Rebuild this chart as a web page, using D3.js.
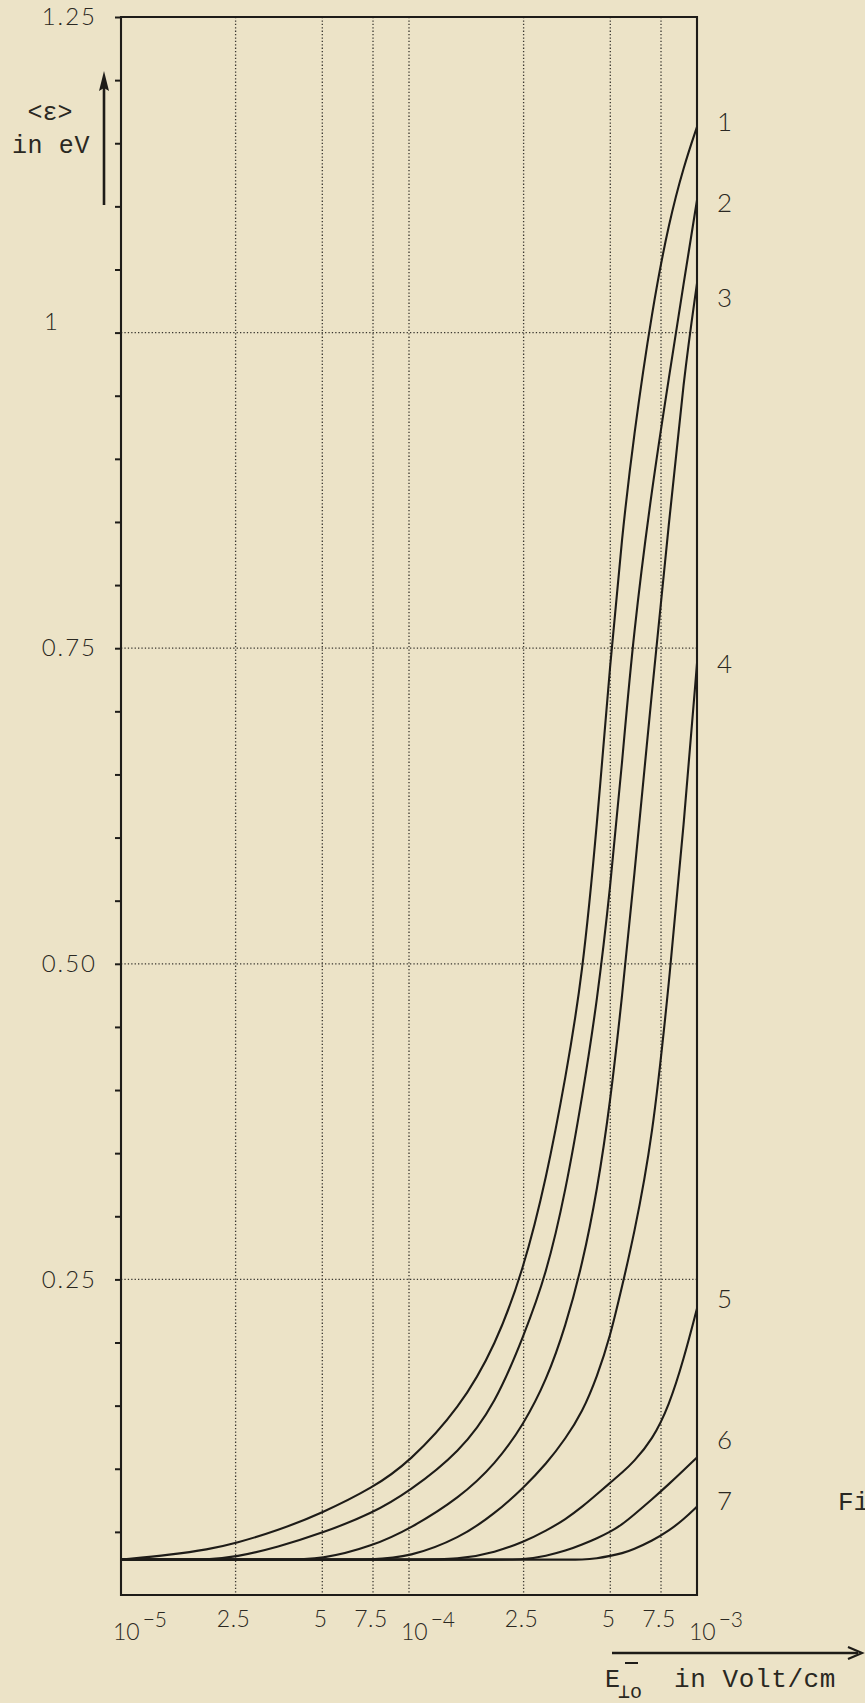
<!DOCTYPE html>
<html><head><meta charset="utf-8">
<script src="https://cdn.jsdelivr.net/npm/d3@7/dist/d3.min.js"></script>
<style>
html,body{margin:0;padding:0;background:#ece3c7;}
svg{display:block;}
</style></head><body>
<svg id="chart" width="865" height="1703"></svg>
<script>
// ---- data ----
const fieldE = [1e-5,1.5e-5,2e-5,2.5e-5,3.5e-5,5e-5,7.5e-5,1e-4,1.5e-4,2e-4,2.5e-4,3e-4,3.5e-4,4e-4,4.5e-4,5e-4,5.5e-4,6e-4,7e-4,8e-4,9e-4,1e-3];
const curveNames = ["1","2","3","4","5","6","7"];
const curve1 = [0.028,0.032,0.036,0.041,0.051,0.065,0.085,0.105,0.148,0.198,0.258,0.330,0.410,0.490,0.610,0.740,0.840,0.915,1.020,1.088,1.132,1.163];
const curve2 = [0.028,0.028,0.028,0.030,0.038,0.049,0.065,0.082,0.113,0.152,0.205,0.254,0.320,0.395,0.470,0.560,0.660,0.760,0.880,0.965,1.040,1.105];
const curve3 = [0.028,0.028,0.028,0.028,0.028,0.028,0.039,0.052,0.077,0.104,0.135,0.170,0.213,0.262,0.320,0.390,0.475,0.560,0.720,0.850,0.965,1.039];
const curve4 = [0.028,0.028,0.028,0.028,0.028,0.028,0.028,0.030,0.045,0.065,0.085,0.104,0.124,0.145,0.173,0.205,0.245,0.282,0.360,0.485,0.610,0.738];
const curve5 = [0.028,0.028,0.028,0.028,0.028,0.028,0.028,0.028,0.028,0.034,0.042,0.051,0.060,0.070,0.080,0.089,0.097,0.105,0.123,0.150,0.187,0.227];
const curve6 = [0.028,0.028,0.028,0.028,0.028,0.028,0.028,0.028,0.028,0.028,0.028,0.031,0.035,0.040,0.045,0.050,0.056,0.063,0.076,0.088,0.099,0.109];
const curve7 = [0.028,0.028,0.028,0.028,0.028,0.028,0.028,0.028,0.028,0.028,0.028,0.028,0.028,0.028,0.029,0.031,0.033,0.036,0.043,0.051,0.060,0.070];

const yTickValues = [0.25,0.5,0.75,1,1.25];
const yTickLabels = ["0.25","0.50","0.75","1","1.25"];
const yMinorStep = 0.05;
const xTickValues = [1e-5,2.5e-5,5e-5,7.5e-5,1e-4,2.5e-4,5e-4,7.5e-4,1e-3];
const xTickLabels = ["10^−5","2.5","5","7.5","10^−4","2.5","5","7.5","10^−3"];
const yTitleLines = ["<ε>","in eV"];
const xTitleMain = "E";
const xTitleSub = "⊥o";
const xTitleUnit = "in Volt/cm";
const figText = "Fig.";

// ---- layout ----
const ink = "#1e1c18";
const numFont = "Lato, 'Open Sans', 'DejaVu Sans', sans-serif";
const typeFont = "'Liberation Mono', 'DejaVu Sans Mono', monospace";
const plotL = 121, plotR = 697, plotT = 17, plotB = 1595;
const labelNudge = [-5, 3, 14, 0, -10, -18, -6];   // label offsets (px) from curve end

const svg = d3.select("#chart");
const x = d3.scaleLog().domain([1e-5, 1e-3]).range([plotL, plotR]);
const y = d3.scaleLinear().domain([0, 1.25]).range([plotB, plotT]);

// gridlines
const grid = svg.append("g").attr("stroke", "#3a3730").attr("stroke-width", 1.3)
  .attr("stroke-dasharray", "1.3,2.1").attr("fill", "none");
grid.selectAll("line.v").data(xTickValues.slice(1, -1)).join("line").attr("class", "v")
  .attr("x1", d => x(d)).attr("x2", d => x(d)).attr("y1", plotT).attr("y2", plotB);
grid.selectAll("line.h").data(yTickValues.slice(0, -1)).join("line").attr("class", "h")
  .attr("x1", plotL).attr("x2", plotR).attr("y1", d => y(d)).attr("y2", d => y(d));

// y axis minor ticks + labels
const minor = d3.range(1, Math.round(1.25 / yMinorStep) + 1).map(i => +(i * yMinorStep).toFixed(2));
const labelFor = v => { const i = yTickValues.findIndex(t => Math.abs(t - v) < 1e-6); return i >= 0 ? yTickLabels[i] : ""; };
const yAxis = d3.axisLeft(y).tickValues(minor).tickSizeInner(6).tickSizeOuter(0).tickPadding(18).tickFormat(labelFor);
const gy = svg.append("g").attr("transform", `translate(${plotL},0)`).call(yAxis);
gy.select(".domain").remove();
gy.selectAll(".tick line").attr("stroke", ink).attr("stroke-width", 2);
gy.selectAll(".tick text").attr("fill", "#2a2822").attr("font-family", numFont).attr("font-weight", 300)
  .attr("font-size", 24).attr("letter-spacing", 2);
gy.selectAll(".tick text").filter(d => Math.abs(d - 1) < 1e-6)
  .attr("text-anchor", "start").attr("x", -77).attr("dy", "-0.15em");

// curves
const series = [curve1, curve2, curve3, curve4, curve5, curve6, curve7].map((vals, i) => ({
  name: curveNames[i], nudge: labelNudge[i], points: fieldE.map((e, j) => [e, vals[j]])
}));
const line = d3.line().x(d => x(d[0])).y(d => y(d[1])).curve(d3.curveBasis);
svg.append("g").selectAll("path").data(series).join("path")
  .attr("d", d => line(d.points)).attr("fill", "none").attr("stroke", ink)
  .attr("stroke-width", 2.1).attr("stroke-linejoin", "round");

// curve labels
svg.append("g").selectAll("text").data(series).join("text")
  .attr("x", plotR + 20).attr("y", d => y(d.points[d.points.length - 1][1]) + d.nudge)
  .attr("dy", "0.36em").attr("font-family", numFont).attr("font-weight", 300)
  .attr("font-size", 26).attr("fill", "#2a2822").text(d => d.name);

// frame
svg.append("path").attr("d", `M${plotL},${plotT}H${plotR}V${plotB}H${plotL}Z`)
  .attr("fill", "none").attr("stroke", ink).attr("stroke-width", 2.1);

// x tick labels
const xl = svg.append("g").attr("font-family", numFont).attr("font-weight", 300).attr("fill", "#2a2822");
xTickValues.forEach((v, i) => {
  const lab = xTickLabels[i];
  if (lab.includes("^")) {
    const [b, e] = lab.split("^");
    const t = xl.append("text").attr("x", x(v) - 8).attr("y", plotB + 45)
      .attr("text-anchor", "start").attr("font-size", 23);
    t.append("tspan").text(b);
    t.append("tspan").attr("dy", -13).attr("font-size", 21).attr("dx", 3).text(e);
  } else {
    xl.append("text").attr("x", x(v) - 2).attr("y", plotB + 32).attr("text-anchor", "middle")
      .attr("font-size", 23).attr("letter-spacing", lab.length > 1 ? 0.5 : 0).text(lab);
  }
});

// y title with arrow
const yt = svg.append("g").attr("font-family", typeFont).attr("font-size", 25).attr("fill", "#2a2822");
yt.append("text").attr("x", 50).attr("y", 120).attr("text-anchor", "middle").text(yTitleLines[0]);
yt.append("text").attr("x", 12).attr("y", 153).attr("letter-spacing", 0.6).text(yTitleLines[1]);
svg.append("line").attr("x1", 104).attr("x2", 104).attr("y1", 205).attr("y2", 86)
  .attr("stroke", ink).attr("stroke-width", 2.6);
svg.append("path").attr("d", "M104,71 L99,91 L104,88 L109,91 Z").attr("fill", ink);

// x title with arrow
svg.append("line").attr("x1", 612).attr("x2", 858).attr("y1", 1653).attr("y2", 1653)
  .attr("stroke", ink).attr("stroke-width", 2.4);
svg.append("path").attr("d", "M848,1647 L862,1653 L848,1659").attr("fill", "none")
  .attr("stroke", ink).attr("stroke-width", 2.2);
const xt = svg.append("g").attr("font-family", typeFont).attr("fill", "#2a2822");
const tt = xt.append("text").attr("x", 605).attr("y", 1687).attr("font-size", 25);
tt.append("tspan").text(xTitleMain);
tt.append("tspan").attr("dy", 11).attr("font-size", 20).attr("dx", -2).text(xTitleSub);
xt.append("line").attr("x1", 625).attr("x2", 638).attr("y1", 1663).attr("y2", 1663)
  .attr("stroke", ink).attr("stroke-width", 2);
xt.append("text").attr("x", 674).attr("y", 1687).attr("font-size", 26).attr("letter-spacing", 0.6).text(xTitleUnit);

// cut-off caption at right edge
svg.append("text").attr("x", 838).attr("y", 1510).attr("font-family", typeFont)
  .attr("font-size", 26).attr("fill", "#2a2822").text(figText);
</script>
</body></html>
